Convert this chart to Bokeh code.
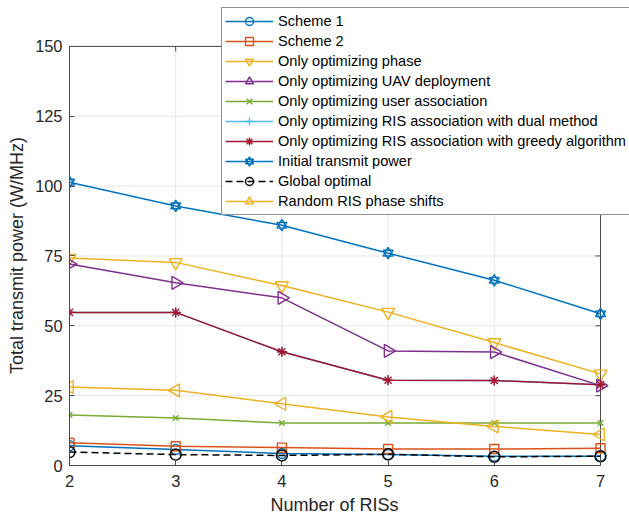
import math
from bokeh.plotting import figure
from bokeh.models import Range1d, FixedTicker, Legend, LegendItem
from bokeh.embed import file_html
from bokeh.resources import INLINE

num_ris = [2, 3, 4, 5, 6, 7]
x_ticks = [2, 3, 4, 5, 6, 7]
y_ticks = [0, 25, 50, 75, 100, 125, 150]

scheme1 = [7.1, 5.7, 4.3, 3.9, 3.3, 3.3]
scheme2 = [8.1, 6.9, 6.4, 5.9, 5.9, 6.2]
only_phase = [74.3, 72.7, 64.4, 54.9, 44.0, 32.8]
only_uav = [72.1, 65.4, 60.0, 41.0, 40.6, 28.6]
only_user = [18.1, 17.0, 15.2, 15.2, 15.2, 15.2]
only_ris_dual = [54.8, 54.8, 40.7, 30.5, 30.4, 28.9]
only_ris_greedy = [54.8, 54.8, 40.7, 30.5, 30.4, 28.9]
initial_power = [101.4, 92.9, 86.0, 76.0, 66.3, 54.3]
global_opt = [4.8, 3.9, 3.6, 4.0, 3.1, 3.3]
random_phase = [28.1, 26.9, 22.1, 17.4, 14.0, 11.1]

labels = ["Scheme 1", "Scheme 2", "Only optimizing phase",
          "Only optimizing UAV deployment", "Only optimizing user association",
          "Only optimizing RIS association with dual method",
          "Only optimizing RIS association with greedy algorithm",
          "Initial transmit power", "Global optimal", "Random RIS phase shifts"]
x_label = "Number of RISs"
y_label = "Total transmit power (W/MHz)"

BLUE = "#0072BD"; ORANGE = "#D95319"; YELLOW = "#EDB120"; PURPLE = "#7E2F8E"
GREEN = "#77AC30"; LBLUE = "#4DBEEE"; RED = "#A2142F"
FONT = "Liberation Sans"
AX = "#4a4a4a"
GRID = "#e6e6e6"
X_MIN, X_MAX = 2, 7
Y_MIN, Y_MAX = 0, 150

# layout (pixels): the axes box spans 69..600 horizontally and 46..466 vertically;
# the frame is extended to the top/right canvas edges so the legend can overlap them.
W, H = 629, 517
BOX_L, BOX_R, BOX_T, BOX_B = 69, 600, 46, 466
px_x = (BOX_R - BOX_L) / (X_MAX - X_MIN)
px_y = (BOX_B - BOX_T) / (Y_MAX - Y_MIN)
x_end = X_MAX + (W - BOX_R) / px_x
y_end = Y_MAX + BOX_T / px_y

p = figure(width=W, height=H, output_backend="svg", toolbar_location=None,
           x_range=Range1d(X_MIN, x_end), y_range=Range1d(Y_MIN, y_end),
           min_border_left=BOX_L, min_border_right=0, min_border_top=0,
           min_border_bottom=H - BOX_B)
p.outline_line_color = None
p.background_fill_color = "white"
p.border_fill_color = "white"
p.grid.visible = False

NBSP = "\u00a0"
xa = p.xaxis[0]
ya = p.yaxis[0]
xa.ticker = FixedTicker(ticks=x_ticks)
ya.ticker = FixedTicker(ticks=y_ticks)
xa.bounds = (X_MIN, X_MAX)
ya.bounds = (Y_MIN, Y_MAX)
# labels are centred on the (extended) frame; trailing no-break spaces re-centre them on the box
xa.axis_label = x_label + NBSP * 6
ya.axis_label = y_label + NBSP * 9
for ax in [xa, ya]:
    ax.axis_line_color = AX
    ax.axis_line_width = 1
    ax.major_tick_line_color = AX
    ax.major_tick_in = 5
    ax.major_tick_out = 0
    ax.minor_tick_line_color = None
    ax.major_label_text_font = FONT
    ax.major_label_text_font_size = "16.4px"
    ax.major_label_text_color = "#262626"
    ax.axis_label_text_font = FONT
    ax.axis_label_text_font_style = "normal"
    ax.axis_label_text_color = "#262626"
    ax.axis_label_text_font_size = "18px"
xa.major_label_standoff = 9
xa.axis_label_standoff = 5
ya.major_label_standoff = 7
ya.axis_label_standoff = 5

# grid lines limited to the axes box
p.segment(x0=x_ticks, y0=Y_MIN, x1=x_ticks, y1=Y_MAX, line_color=GRID, line_width=1)
p.segment(x0=X_MIN, y0=y_ticks, x1=X_MAX, y1=y_ticks, line_color=GRID, line_width=1)
# axes box and inward ticks on the top and right edges
p.quad(left=X_MIN, right=X_MAX, bottom=Y_MIN, top=Y_MAX, fill_color=None,
       line_color=AX, line_width=1)
p.ray(x=X_MAX, y=y_ticks, length=5, length_units="screen", angle=math.pi,
      line_color=AX, line_width=1)
p.ray(x=x_ticks, y=Y_MAX, length=5, length_units="screen", angle=-math.pi / 2,
      line_color=AX, line_width=1)

LW = 1.5
items = []

def series(y, color, markers, label, dash="solid"):
    rs = [p.line(num_ris, y, line_color=color, line_width=LW, line_dash=dash)]
    for marker, size, angle in markers:
        rs.append(p.scatter(num_ris, y, marker=marker, size=size, angle=angle,
                            line_color=color, fill_color=None, line_width=1.4))
    items.append(LegendItem(label=label, renderers=rs))

series(scheme1, BLUE, [("circle", 10, 0)], labels[0])
series(scheme2, ORANGE, [("square", 9, 0)], labels[1])
series(only_phase, YELLOW, [("inverted_triangle", 13, 0)], labels[2])
series(only_uav, PURPLE, [("triangle", 13, -math.pi / 2)], labels[3])
series(only_user, GREEN, [("x", 8, 0)], labels[4])
series(only_ris_dual, LBLUE, [("cross", 10, 0)], labels[5])
series(only_ris_greedy, RED, [("asterisk", 10, 0)], labels[6])
series(initial_power, BLUE, [("triangle", 10, 0), ("inverted_triangle", 10, 0)], labels[7])
series(global_opt, "black", [("circle", 11, 0)], labels[8], dash="7 4")
series(random_phase, YELLOW, [("triangle", 13, math.pi / 2)], labels[9])

legend = Legend(items=items, location=(152, 250), orientation="vertical")
legend.label_text_font = FONT
legend.label_text_font_size = "14.6px"
legend.label_text_color = "black"
legend.glyph_width = 48
legend.glyph_height = 20
legend.label_height = 20
legend.label_standoff = 5
legend.spacing = 0
legend.padding = 3
legend.margin = 0
legend.border_line_color = "#262626"
legend.border_line_width = 1
legend.background_fill_color = "white"
legend.background_fill_alpha = 1
p.add_layout(legend, "center")

open("out.html", "w").write(file_html(p, INLINE))
